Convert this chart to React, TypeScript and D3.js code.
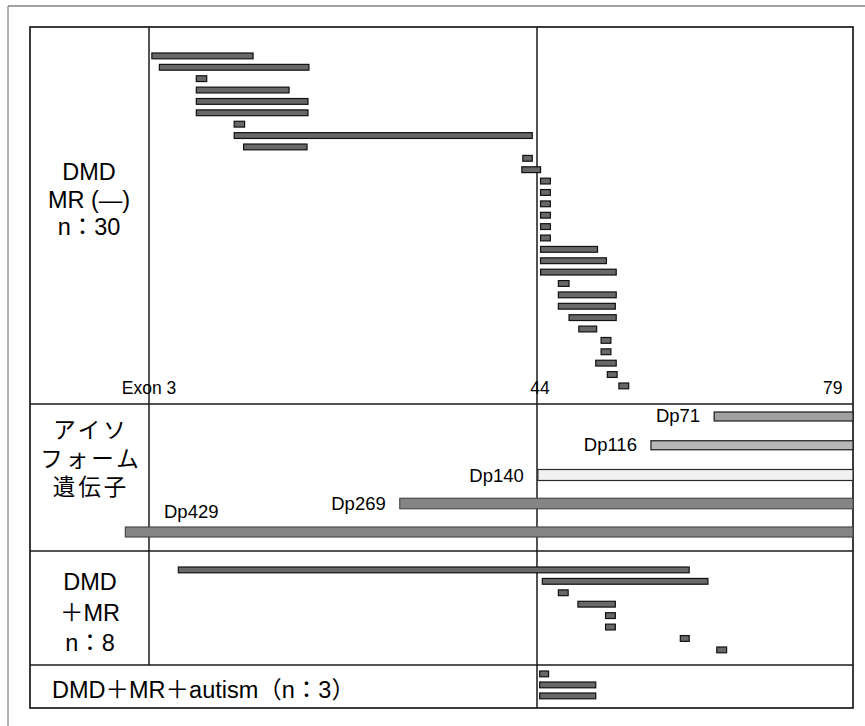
import React from 'react';
import * as d3 from 'd3';

// exon axis
const exonTicks = [3, 44, 79];
const exonTickLabels = ['Exon 3', '44', '79'];

// row labels
const noMrLabel = ['DMD', 'MR (—)', 'n：30'];
const isoformLabel = ['アイソ', 'フォーム', '遺伝子'];
const mrLabel = ['DMD', '＋MR', 'n：8'];
const autismLabel = 'DMD＋MR＋autism（n：3）';

// deletions, [first, last] in exon units
const noMrDeletions: [number, number][] = [
  [3.3, 14.0], [4.1, 19.9], [8.0, 9.1], [8.0, 17.8], [8.0, 19.8],
  [8.0, 19.8], [12.0, 13.1], [12.0, 43.5], [13.0, 19.7], [42.5, 43.5],
  [42.4, 44.4], [44.4, 45.5], [44.4, 45.5], [44.4, 45.5], [44.4, 45.5],
  [44.4, 45.5], [44.4, 45.5], [44.4, 50.8], [44.4, 51.8], [44.4, 52.9],
  [46.4, 47.6], [46.4, 52.9], [46.4, 52.8], [47.6, 52.9], [48.7, 50.7],
  [51.2, 52.3], [51.2, 52.3], [50.6, 52.9], [51.9, 53.0], [53.2, 54.3],
];

const mrDeletions: [number, number][] = [
  [6.1, 61.1], [44.6, 63.2], [46.4, 47.5], [48.6, 52.8],
  [51.7, 52.8], [51.7, 52.8], [60.1, 61.1], [64.2, 65.3],
];

const autismDeletions: [number, number][] = [
  [44.3, 45.3], [44.3, 50.6], [44.3, 50.6],
];

// isoforms
const isoformNames = ['Dp71', 'Dp116', 'Dp140', 'Dp269', 'Dp429'];
const isoformStart = [63.9, 56.8, 44.1, 29.5, 0.5];
const isoformEnd = [79.5, 79.5, 79.5, 79.5, 79.5];

const isoFill: Record<string, string> = {
  Dp71: '#a0a0a0', Dp116: '#b8b8b8', Dp140: '#f1f1f1', Dp269: '#858585', Dp429: '#858585',
};
const isoStroke: Record<string, string> = {
  Dp71: '#1a1a1a', Dp116: '#1a1a1a', Dp140: '#2a2a2a', Dp269: '#4a4a4a', Dp429: '#4a4a4a',
};
const isoH: Record<string, number> = { Dp71: 9, Dp116: 9, Dp140: 11, Dp269: 10.5, Dp429: 10 };

const FONT = '"Liberation Sans", Arial, "Noto Sans CJK JP", sans-serif';

export default function App() {
  const left = 30, right = 853, top = 27, bottom = 708;
  const colX = 149;
  const row1 = 404, row2 = 551, row3 = 665;

  const x = d3.scaleLinear().domain([3, 44, 79.5]).range([colX, 537, right]);

  const yNoMr = d3.scaleLinear().domain([0, noMrDeletions.length - 1]).range([53, 383]);
  const yMr = d3.scaleLinear().domain([0, mrDeletions.length - 1]).range([567, 647]);
  const yAut = d3.scaleLinear().domain([0, autismDeletions.length - 1]).range([671, 693]);
  const yIso = d3.scalePoint<string>().domain(isoformNames).range([412, 527]);

  const barH = 5.8;
  const bar = (d: [number, number], y: number, key: string) => (
    <rect key={key} x={x(d[0])} y={y} width={x(d[1]) - x(d[0])} height={barH}
      fill="#686868" stroke="#111" strokeWidth={1.2} />
  );

  const line = '#1a1a1a';

  return (
    <svg width={865} height={726} style={{ position: 'absolute', left: 0, top: 0, background: '#fff' }}
      fontFamily={FONT}>
      <rect width={865} height={726} fill="#fff" />
      {/* outer frame */}
      <line x1={8} x2={865} y1={6} y2={6} stroke="#444" strokeWidth={1.2} />
      <line x1={8} x2={8} y1={6} y2={726} stroke="#666" strokeWidth={1} />

      {/* table */}
      <rect x={left} y={top} width={right - left} height={bottom - top} fill="none" stroke={line} strokeWidth={1.7} />
      {[row1, row2, row3].map(r => (
        <line key={r} x1={left} x2={right} y1={r} y2={r} stroke={line} strokeWidth={1.6} />
      ))}
      <line x1={colX} x2={colX} y1={top} y2={row3} stroke={line} strokeWidth={1.5} />
      <line x1={x(44)} x2={x(44)} y1={top} y2={bottom} stroke={line} strokeWidth={1.5} />

      {/* exon ticks */}
      {exonTicks.map((t, i) => (
        <text key={t} x={i === 2 ? x(t) - 6 : x(t) + (i === 1 ? 3 : 0)} y={394} fontSize={17.5}
          textAnchor={i === 2 ? 'end' : 'middle'} fill="#000">{exonTickLabels[i]}</text>
      ))}

      {/* row labels */}
      {noMrLabel.map((s, i) => (
        <text key={s} x={89} y={180 + i * 27.5} fontSize={23.5} textAnchor="middle" fill="#000">{s}</text>
      ))}
      {isoformLabel.map((s, i) => (
        <text key={s} x={91} y={438 + i * 28.5} fontSize={22.5} letterSpacing={3} textAnchor="middle" fill="#000">{s}</text>
      ))}
      {mrLabel.map((s, i) => (
        <text key={s} x={90} y={590 + i * 30.5} fontSize={23.5} textAnchor="middle" fill="#000">{s}</text>
      ))}
      <text x={52} y={698} fontSize={23.5} fill="#000">{autismLabel}</text>

      {/* deletions */}
      {noMrDeletions.map((d, i) => bar(d, yNoMr(i), 'a' + i))}
      {mrDeletions.map((d, i) => bar(d, yMr(i), 'b' + i))}
      {autismDeletions.map((d, i) => bar(d, yAut(i), 'c' + i))}

      {/* isoforms */}
      {isoformNames.map((n, i) => {
        const y0 = yIso(n) as number;
        const h = isoH[n];
        const xs = x(isoformStart[i]);
        return (
          <g key={n}>
            <rect x={xs} y={y0} width={x(isoformEnd[i]) - xs} height={h}
              fill={isoFill[n]} stroke={isoStroke[n]} strokeWidth={1.2} />
            {n === 'Dp429'
              ? <text x={colX + 15} y={y0 - 9} fontSize={18.5} fill="#000">{n}</text>
              : <text x={xs - 14} y={y0 + h + 1} fontSize={18.5} textAnchor="end" fill="#000">{n}</text>}
          </g>
        );
      })}
    </svg>
  );
}
